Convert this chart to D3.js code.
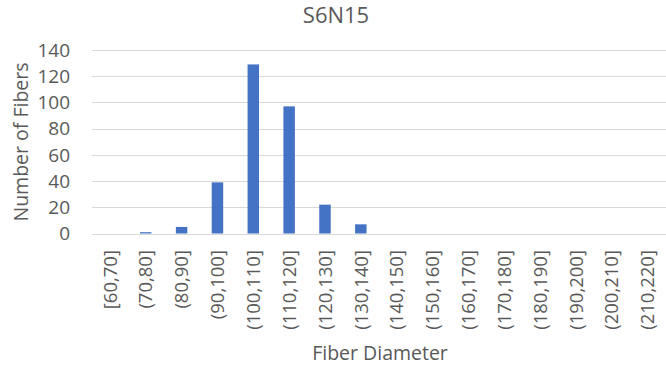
<!DOCTYPE html>
<html>
<head>
<meta charset="utf-8">
<script src="https://cdn.jsdelivr.net/npm/d3@7"></script>
<style>
  body { margin: 0; background: #fff; }
  text { font-family: "Open Sans", "Noto Sans", sans-serif; fill: #595959; }
</style>
</head>
<body>
<svg id="chart"></svg>
<script>
// categories (fiber diameter bins) and counts
const categories = ['[60,70]', '(70,80]', '(80,90]', '(90,100]', '(100,110]', '(110,120]',
  '(120,130]', '(130,140]', '(140,150]', '(150,160]', '(160,170]', '(170,180]',
  '(180,190]', '(190,200]', '(200,210]', '(210,220]'];
const counts = [0, 1, 5, 39, 129, 97, 22, 7, 0, 0, 0, 0, 0, 0, 0, 0];
const yTicks = [0, 20, 40, 60, 80, 100, 120, 140];

const width = 666, height = 370;
const margin = { top: 50, right: 0, bottom: 136, left: 92 };

const svg = d3.select('#chart')
  .attr('width', width)
  .attr('height', height);

const x = d3.scaleBand()
  .domain(categories)
  .range([margin.left, width - 0.5])
  .paddingInner(0.68)
  .paddingOuter(0.34);

const y = d3.scaleLinear()
  .domain([0, 140])
  .range([height - margin.bottom - 0.5, margin.top]);

// gridlines
svg.append('g')
  .selectAll('line')
  .data(yTicks)
  .join('line')
  .attr('x1', margin.left)
  .attr('x2', width)
  .attr('y1', d => Math.round(y(d)) + 0.5)
  .attr('y2', d => Math.round(y(d)) + 0.5)
  .attr('stroke', '#d9d9d9')
  .attr('stroke-width', 1);

// y tick labels
svg.append('g')
  .selectAll('text')
  .data(yTicks)
  .join('text')
  .attr('x', 70)
  .attr('y', d => y(d))
  .attr('dy', '0.36em')
  .attr('text-anchor', 'end')
  .style('font-size', '19px')
  .text(d => d);

// bars
svg.append('g')
  .selectAll('rect')
  .data(counts)
  .join('rect')
  .attr('x', (d, i) => x(categories[i]))
  .attr('width', x.bandwidth())
  .attr('y', d => y(d))
  .attr('height', d => y(0) - y(d))
  .attr('fill', '#4472c4');

// x tick labels, rotated
svg.append('g')
  .selectAll('text')
  .data(categories)
  .join('text')
  .attr('transform', d => `translate(${x(d) + x.bandwidth() / 2},250) rotate(-90)`)
  .attr('dy', '0.36em')
  .attr('text-anchor', 'end')
  .style('font-size', '18.5px')
  .text(d => d);

// title
svg.append('text')
  .attr('x', 336)
  .attr('y', 23)
  .attr('text-anchor', 'middle')
  .style('font-size', '22px')
  .text('S6N15');

// axis titles
svg.append('text')
  .attr('x', 380)
  .attr('y', 360)
  .attr('text-anchor', 'middle')
  .style('font-size', '19.5px')
  .text('Fiber Diameter');

svg.append('text')
  .attr('transform', 'translate(28,142) rotate(-90)')
  .attr('text-anchor', 'middle')
  .style('font-size', '19.5px')
  .text('Number of Fibers');
</script>
</body>
</html>
